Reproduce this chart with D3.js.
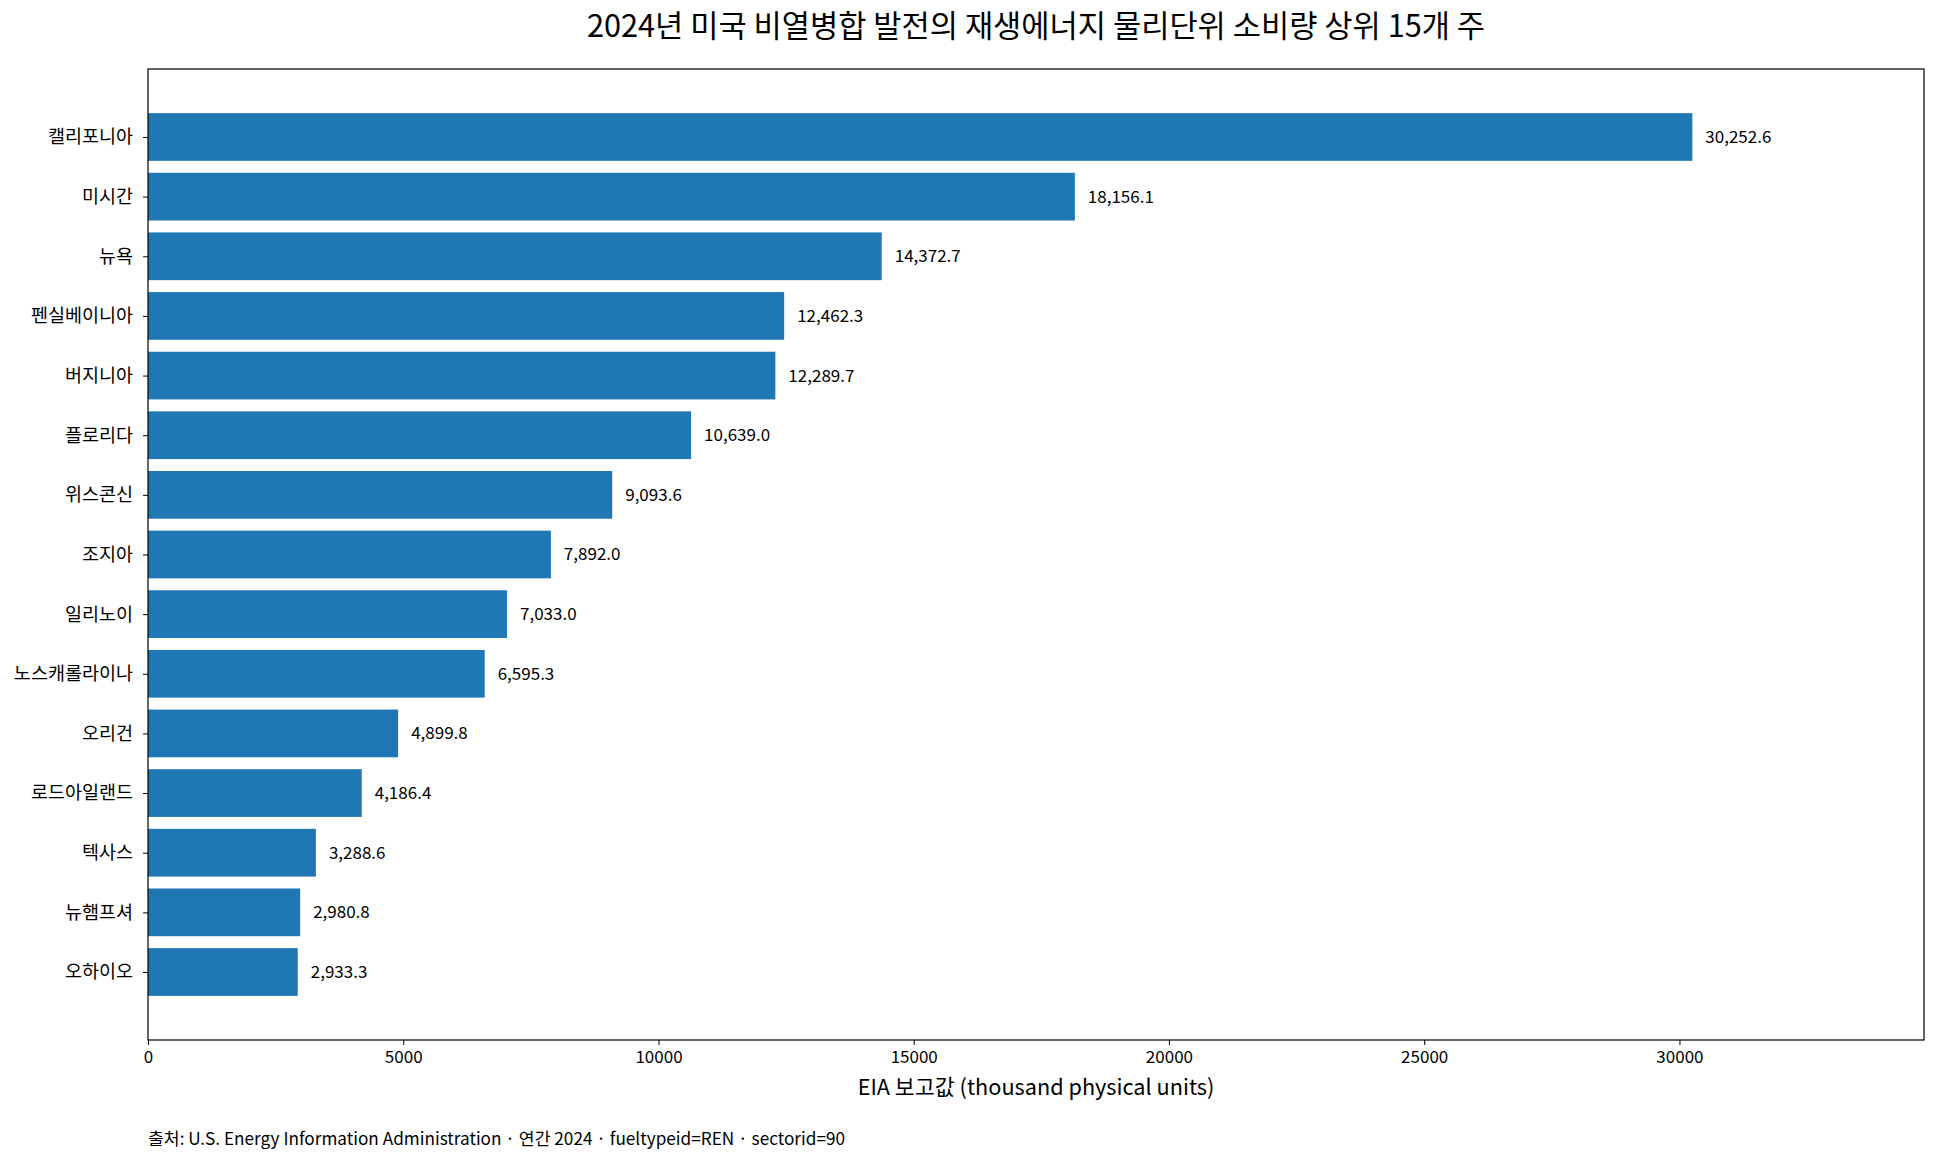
<!DOCTYPE html>
<html><head><meta charset="utf-8">
<script src="https://cdn.jsdelivr.net/npm/d3@7"></script>
<style>body{margin:0;background:#fff;} text{font-family:"Noto Sans CJK KR","Noto Sans",sans-serif;}</style>
</head><body><svg id="c" width="1937" height="1163"></svg>
<script>
const states = ["캘리포니아","미시간","뉴욕","펜실베이니아","버지니아","플로리다","위스콘신","조지아","일리노이","노스캐롤라이나","오리건","로드아일랜드","텍사스","뉴햄프셔","오하이오"];
const values = [30252.6,18156.1,14372.7,12462.3,12289.7,10639.0,9093.6,7892.0,7033.0,6595.3,4899.8,4186.4,3288.6,2980.8,2933.3];
const xTicks = [0,5000,10000,15000,20000,25000,30000];
const title = "2024년 미국 비열병합 발전의 재생에너지 물리단위 소비량 상위 15개 주";
const xLabel = "EIA 보고값 (thousand physical units)";
const source = "출처: U.S. Energy Information Administration · 연간 2024 · fueltypeid=REN · sectorid=90";

const L=148, R=1924, T=69, B=1040;
const svg = d3.select("#c");
const x = d3.scaleLinear().domain([0, d3.max(values)*1.15]).range([L,R]);
const n = states.length;
const pad = 0.05*(n-1+0.8);
const y = d3.scaleLinear().domain([-0.4-pad, n-1+0.4+pad]).range([T,B]);
const bh = y(0.8)-y(0);
const fmt = d3.format(",.1f");

svg.selectAll("rect.bar").data(values).join("rect").attr("class","bar")
  .attr("x", x(0)).attr("y",(d,i)=>y(i-0.4)).attr("width",d=>x(d)-x(0)).attr("height",bh)
  .attr("fill","#1f77b4");

svg.selectAll("text.val").data(values).join("text").attr("class","val")
  .attr("x",d=>x(d)+13).attr("y",(d,i)=>y(i)).attr("dy","0.35em")
  .attr("font-size",17).attr("fill","#000").text(d=>fmt(d));

// axes
const xa = svg.append("g").attr("transform",`translate(0,${B})`)
  .call(d3.axisBottom(x).tickValues(xTicks).tickFormat(d3.format("d")).tickSizeOuter(0).tickSize(5).tickPadding(6));
xa.selectAll("text").attr("font-size",17).attr("fill","#000");
const ya = svg.append("g").attr("transform",`translate(${L},0)`)
  .call(d3.axisLeft(y).tickValues(d3.range(n)).tickFormat(i=>states[i]).tickSizeOuter(0).tickSize(5).tickPadding(10));
ya.selectAll("text").attr("font-size",18.5).attr("fill","#000");
svg.selectAll(".domain").remove();
svg.append("rect").attr("x",L).attr("y",T).attr("width",R-L).attr("height",B-T)
  .attr("fill","none").attr("stroke","#000").attr("stroke-width",1.2);

svg.append("text").attr("x",(L+R)/2).attr("y",37).attr("text-anchor","middle")
  .attr("font-size",30.7).attr("fill","#000").text(title);
svg.append("text").attr("x",(L+R)/2).attr("y",1095).attr("text-anchor","middle")
  .attr("font-size",21.7).attr("fill","#000").text(xLabel);
svg.append("text").attr("x",L).attr("y",1145)
  .attr("font-size",17.2).attr("fill","#000").text(source);
</script></body></html>
